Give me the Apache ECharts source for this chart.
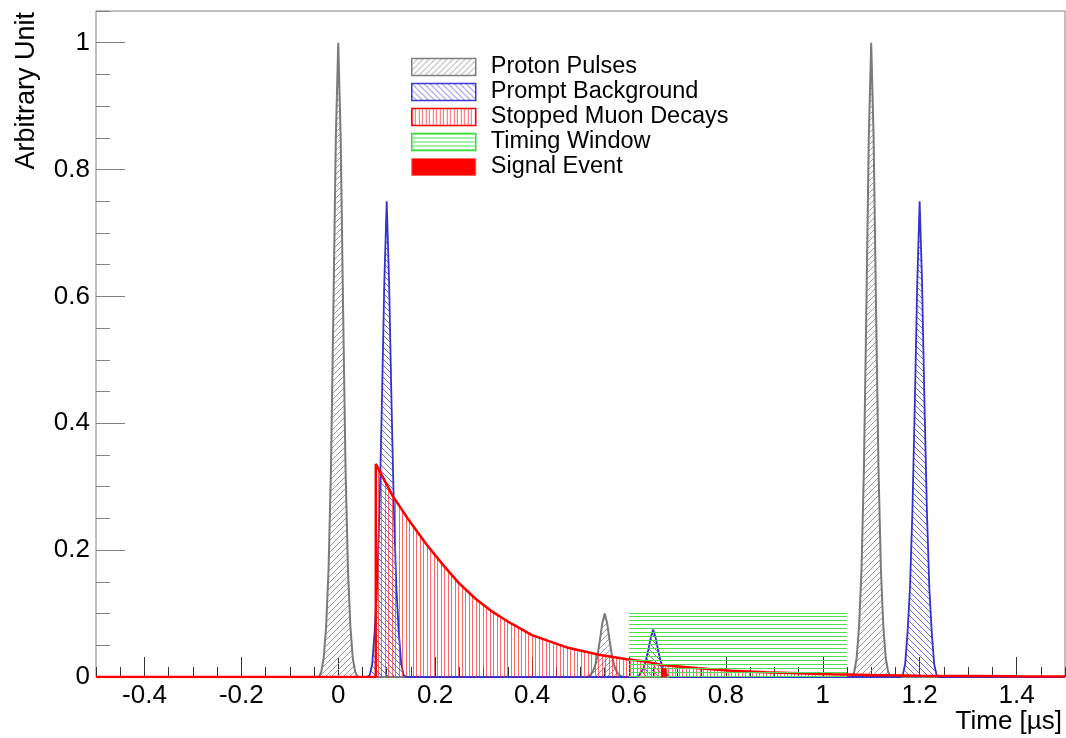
<!DOCTYPE html>
<html>
<head>
<meta charset="utf-8">
<script src="https://cdn.jsdelivr.net/npm/echarts@6/dist/echarts.min.js"></script>
<style>
html, body { margin: 0; padding: 0; background: #fff; }
#main { width: 1066px; height: 738px; }
</style>
</head>
<body>
<div id="main"></div>
<script>
// tick labels
var xMajorTicks = [-0.4, -0.2, 0, 0.2, 0.4, 0.6, 0.8, 1, 1.2, 1.4];
var yMajorTicks = [0, 0.2, 0.4, 0.6, 0.8, 1];

// pulse shapes, sampled at these offsets from each pulse centre (us)
var peakOffsets = [-0.04, -0.035, -0.03, -0.025, -0.02, -0.015, -0.01, -0.005, 0, 0.005, 0.01, 0.015, 0.02, 0.025, 0.03, 0.035, 0.04];

var protonCenters = [0, 0.55, 1.1];
var protonPeak0 = [0, 0.008, 0.03, 0.08, 0.17, 0.33, 0.58, 0.85, 1, 0.85, 0.58, 0.33, 0.17, 0.08, 0.03, 0.008, 0];
var protonPeak1 = [0, 0.001, 0.003, 0.008, 0.017, 0.033, 0.058, 0.085, 0.1, 0.085, 0.058, 0.033, 0.017, 0.008, 0.003, 0.001, 0];
var protonPeak2 = [0, 0.008, 0.03, 0.08, 0.17, 0.33, 0.58, 0.85, 1, 0.85, 0.58, 0.33, 0.17, 0.08, 0.03, 0.008, 0];

var promptCenters = [0.1, 0.65, 1.2];
var promptPeak0 = [0, 0.003, 0.02, 0.07, 0.14, 0.26, 0.43, 0.62, 0.75, 0.62, 0.43, 0.26, 0.14, 0.07, 0.02, 0.003, 0];
var promptPeak1 = [0, 0, 0.002, 0.007, 0.014, 0.026, 0.043, 0.062, 0.075, 0.062, 0.043, 0.026, 0.014, 0.007, 0.002, 0, 0];
var promptPeak2 = [0, 0.003, 0.02, 0.07, 0.14, 0.26, 0.43, 0.62, 0.75, 0.62, 0.43, 0.26, 0.14, 0.07, 0.02, 0.003, 0];

// stopped muon decays
var decayTimes = [-0.5, 0.0775, 0.0775, 0.112, 0.146, 0.181, 0.215, 0.249, 0.284, 0.318, 0.353, 0.40, 0.47, 0.538, 0.596, 0.63, 0.668, 0.744, 0.812, 0.882, 0.95, 1.02, 1.1, 1.2, 1.3, 1.4, 1.5];
var decayValues = [0, 0, 0.336, 0.286, 0.247, 0.21, 0.178, 0.148, 0.123, 0.103, 0.086, 0.066, 0.047, 0.035, 0.028, 0.025, 0.019, 0.0137, 0.010, 0.0074, 0.0058, 0.0042, 0.003, 0.002, 0.0015, 0.001, 0.0008];

// timing window and signal
var windowRange = [0.6, 1.05];
var windowHeight = 0.1;
var signalRange = [0.667, 0.677];
var signalHeight = 0.013;

var FONT = 'Liberation Sans';

function peaksToData(centers, peaks) {
	var out = [[-0.5, 0]];
	for (var i = 0; i < centers.length; i++) {
		for (var j = 0; j < peakOffsets.length; j++) {
			out.push([+(centers[i] + peakOffsets[j]).toFixed(4), peaks[i][j]]);
		}
	}
	out.push([1.5, 0]);
	return out;
}

function hatch(kind, color, step) {
	var c = document.createElement('canvas');
	c.width = step;
	c.height = step;
	var g = c.getContext('2d');
	g.strokeStyle = color;
	g.lineWidth = 1;
	g.beginPath();
	if (kind == 'v') {
		g.moveTo(0.5, 0); g.lineTo(0.5, step);
		g.moveTo(Math.floor(step / 2) + 0.5, 0); g.lineTo(Math.floor(step / 2) + 0.5, step);
	} else if (kind == 'h') {
		g.moveTo(0, 0.5); g.lineTo(step, 0.5);
	} else if (kind == '/') {
		g.moveTo(-1, step + 1); g.lineTo(step + 1, -1);
		g.moveTo(-1, 1); g.lineTo(1, -1);
		g.moveTo(step - 1, step + 1); g.lineTo(step + 1, step - 1);
	} else {
		g.moveTo(-1, -1); g.lineTo(step + 1, step + 1);
		g.moveTo(step - 1, -1); g.lineTo(step + 1, 1);
		g.moveTo(-1, step - 1); g.lineTo(1, step + 1);
	}
	g.stroke();
	return { image: c, repeat: 'repeat' };
}

var grayHatch = hatch('/', '#9a9a9a', 6);
var blueHatch = hatch('\\', '#6a6ae0', 6);
var redHatch = hatch('v', 'rgba(255,40,40,0.7)', 7);
var greenHatch = hatch('h', '#4fe04f', 4);

var protonData = peaksToData(protonCenters, [protonPeak0, protonPeak1, protonPeak2]);
var promptData = peaksToData(promptCenters, [promptPeak0, promptPeak1, promptPeak2]);
var decayData = decayTimes.map(function(t, i) { return [t, decayValues[i]]; });
var windowData = [[windowRange[0], windowHeight], [windowRange[1], windowHeight]];
var signalData = [[signalRange[0], 0], [signalRange[0], signalHeight], [signalRange[1], signalHeight], [signalRange[1], 0]];

var chart = echarts.init(document.getElementById('main'));

var option = {
	animation: false,
	backgroundColor: '#fff',
	grid: {
		show: true,
		left: 96,
		top: 11,
		width: 969,
		height: 666,
		borderColor: '#808080',
		borderWidth: 1,
		backgroundColor: 'transparent'
	},
	xAxis: [{
		type: 'value',
		position: 'bottom',
		min: -0.5,
		max: 1.5,
		axisLine: { show: false, onZero: false },
		splitLine: { show: false },
		axisTick: { inside: true, length: 20, customValues: xMajorTicks, lineStyle: { color: '#333' } },
		axisLabel: { customValues: xMajorTicks, margin: 6, fontFamily: FONT, fontSize: 26, color: '#000' }
	}, {
		type: 'value',
		position: 'bottom',
		min: -0.5,
		max: 1.5,
		interval: 0.05,
		axisLine: { show: false, onZero: false },
		splitLine: { show: false },
		axisTick: { inside: true, length: 10, lineStyle: { color: '#333' } },
		axisLabel: { show: false }
	}],
	yAxis: [{
		type: 'value',
		position: 'left',
		min: 0,
		max: 1.05,
		axisLine: { show: false, onZero: false },
		splitLine: { show: false },
		axisTick: { inside: true, length: 29, customValues: yMajorTicks, lineStyle: { color: '#808080' } },
		axisLabel: { customValues: yMajorTicks, margin: 6, fontFamily: FONT, fontSize: 26, color: '#000' }
	}, {
		type: 'value',
		position: 'left',
		min: 0,
		max: 1.05,
		interval: 0.05,
		axisLine: { show: false, onZero: false },
		splitLine: { show: false },
		axisTick: { inside: true, length: 14, lineStyle: { color: '#808080' } },
		axisLabel: { show: false }
	}],
	legend: {
		orient: 'vertical',
		left: 411,
		top: 55,
		padding: 0,
		itemWidth: 64,
		itemHeight: 17,
		itemGap: 1,
		selectedMode: false,
		textStyle: { fontFamily: FONT, fontSize: 23.5, color: '#000', padding: [0, 0, 0, 10] },
		data: [
			{ name: 'Proton Pulses', icon: 'rect', itemStyle: { color: grayHatch, borderColor: '#808080', borderWidth: 1.5 } },
			{ name: 'Prompt Background', icon: 'rect', itemStyle: { color: blueHatch, borderColor: '#3a3ad0', borderWidth: 1.5 } },
			{ name: 'Stopped Muon Decays', icon: 'rect', itemStyle: { color: redHatch, borderColor: '#ff0000', borderWidth: 1.5 } },
			{ name: 'Timing Window', icon: 'rect', itemStyle: { color: greenHatch, borderColor: '#33e033', borderWidth: 1.5 } },
			{ name: 'Signal Event', icon: 'rect', itemStyle: { color: '#ff0000', borderColor: '#ff6666', borderWidth: 1 } }
		]
	},
	graphic: [{
		type: 'text',
		x: 26.5,
		y: 12,
		rotation: Math.PI / 2,
		style: { text: 'Arbitrary Unit', font: '27px "Liberation Sans"', fill: '#000', align: 'right', verticalAlign: 'middle' }
	}, {
		type: 'text',
		x: 1062,
		y: 722,
		style: { text: 'Time [µs]', font: '26px "Liberation Sans"', fill: '#000', align: 'right', verticalAlign: 'middle' }
	}],
	series: [{
		name: 'Proton Pulses',
		type: 'line',
		data: protonData,
		symbol: 'none',
		lineStyle: { color: '#7a7a7a', width: 2 },
		itemStyle: { color: '#7a7a7a' },
		areaStyle: { color: grayHatch, opacity: 1 },
		z: 2
	}, {
		name: 'Prompt Background',
		type: 'line',
		data: promptData,
		symbol: 'none',
		lineStyle: { color: '#3232d2', width: 1.8 },
		itemStyle: { color: '#3232d2' },
		areaStyle: { color: blueHatch, opacity: 1 },
		z: 3
	}, {
		name: 'Stopped Muon Decays',
		type: 'line',
		data: decayData,
		symbol: 'none',
		lineStyle: { color: '#ff0000', width: 2.5 },
		itemStyle: { color: '#ff0000' },
		areaStyle: { color: redHatch, opacity: 1 },
		z: 4
	}, {
		name: 'Timing Window',
		type: 'line',
		data: windowData,
		symbol: 'none',
		lineStyle: { color: '#4fe04f', width: 1 },
		itemStyle: { color: '#4fe04f' },
		areaStyle: { color: greenHatch, opacity: 1 },
		z: 5
	}, {
		name: 'Signal Event',
		type: 'line',
		data: signalData,
		symbol: 'none',
		lineStyle: { color: '#ff0000', width: 1 },
		itemStyle: { color: '#ff0000' },
		areaStyle: { color: '#ff0000', opacity: 1 },
		z: 6
	}]
};

chart.setOption(option);
</script>
</body>
</html>
